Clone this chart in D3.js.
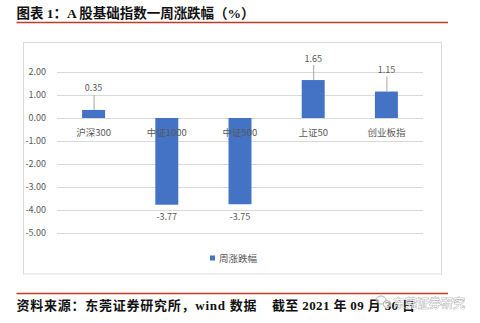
<!DOCTYPE html>
<html>
<head>
<meta charset="utf-8">
<script src="https://cdn.jsdelivr.net/npm/d3@7"></script>
<style>
  html, body { margin: 0; padding: 0; background: #fff; }
  svg { display: block; }
</style>
</head>
<body>
<script>
// Weekly change of the main A-share indices (%)
const categories = ["沪深300", "中证1000", "中证500", "上证50", "创业板指"];
const weeklyChange = [0.35, -3.77, -3.75, 1.65, 1.15];
const yTicks = [2, 1, 0, -1, -2, -3, -4, -5];
const seriesName = "周涨跌幅";
const titleText = "图表 1：A 股基础指数一周涨跌幅（%）";
const sourceText = "资料来源：东莞证券研究所，wind 数据";
const dateText = "截至 2021 年 09 月 30 日";
const watermarkText = "东莞证券研究";

const W = 480, H = 323;
const svg = d3.select("body").append("svg").attr("width", W).attr("height", H);

const serif = "'Liberation Serif', 'Times New Roman', 'Noto Sans CJK SC', serif";
const sans = "'Noto Sans CJK SC', 'Microsoft YaHei', sans-serif";
const red = "#c0392b";
const textGray = "#595959";
const gridGray = "#d9d9d9";
const barBlue = "#4472c4";

// Plain hyphen for negative numbers
const locale = d3.formatLocale({ decimal: ".", thousands: ",", grouping: [3], currency: ["", ""], minus: "-" });
const fmt = locale.format(".2f");

// Title and rule
svg.append("text")
  .attr("x", 16.5).attr("y", 13.5)
  .attr("dominant-baseline", "central")
  .attr("textLength", 238).attr("lengthAdjust", "spacing")
  .style("font-family", serif).style("font-weight", "bold").style("font-size", "13.5px")
  .attr("fill", "#111")
  .text(titleText);
svg.append("line").attr("x1", 16.5).attr("x2", 448).attr("y1", 22.5).attr("y2", 22.5)
  .attr("stroke", red).attr("stroke-width", 1.5);

// Chart frame
svg.append("rect").attr("x", 23.5).attr("y", 42.5).attr("width", 418).attr("height", 231.5)
  .attr("fill", "#fff").attr("stroke", gridGray).attr("stroke-width", 1);

// Scales
const x = d3.scaleBand().domain(categories).range([57, 423])
  .paddingInner(0.686).paddingOuter(0.343);
const y = d3.scaleLinear().domain([-5, 2]).range([233, 72]);

// Gridlines
svg.append("g").selectAll("line").data(yTicks).join("line")
  .attr("x1", 57).attr("x2", 423)
  .attr("y1", d => Math.round(y(d)) + 0.5).attr("y2", d => Math.round(y(d)) + 0.5)
  .attr("stroke", gridGray).attr("stroke-width", 1);

// Y axis labels
const yAxis = d3.axisLeft(y).tickValues(yTicks).tickFormat(fmt).tickSize(0).tickPadding(0);
const gy = svg.append("g").attr("transform", "translate(46,0)").call(yAxis);
gy.select(".domain").remove();
gy.selectAll("text")
  .style("font-family", sans).style("font-size", "9px").attr("fill", textGray);

// Bars
const data = categories.map((c, i) => ({ cat: c, val: weeklyChange[i] }));
svg.append("g").selectAll("rect").data(data).join("rect")
  .attr("x", d => x(d.cat))
  .attr("width", x.bandwidth())
  .attr("y", d => y(Math.max(0, d.val)))
  .attr("height", d => Math.abs(y(d.val) - y(0)))
  .attr("fill", barBlue);

// Category labels sit just under the zero line
svg.append("g").selectAll("text").data(data).join("text")
  .attr("x", d => x(d.cat) + x.bandwidth() / 2)
  .attr("y", y(0) + 13.5)
  .attr("text-anchor", "middle").attr("dominant-baseline", "central")
  .style("font-family", sans).style("font-size", "9.5px")
  .attr("fill", textGray)
  .text(d => d.cat);

// Value labels: positive ones lifted with a leader line, negative ones below the bar
const labelLift = 22;
const pos = data.filter(d => d.val >= 0);
const neg = data.filter(d => d.val < 0);
svg.append("g").selectAll("line").data(pos).join("line")
  .attr("x1", d => x(d.cat) + x.bandwidth() / 2 + 0.5)
  .attr("x2", d => x(d.cat) + x.bandwidth() / 2 + 0.5)
  .attr("y1", d => y(d.val) - labelLift + 7)
  .attr("y2", d => y(d.val))
  .attr("stroke", "#a6a6a6").attr("stroke-width", 1);
svg.append("g").selectAll("text").data(pos).join("text")
  .attr("x", d => x(d.cat) + x.bandwidth() / 2)
  .attr("y", d => y(d.val) - labelLift)
  .attr("text-anchor", "middle").attr("dominant-baseline", "central")
  .style("font-family", sans).style("font-size", "9px").attr("fill", textGray)
  .text(d => fmt(d.val));
svg.append("g").selectAll("text").data(neg).join("text")
  .attr("x", d => x(d.cat) + x.bandwidth() / 2)
  .attr("y", d => y(d.val) + 12)
  .attr("text-anchor", "middle").attr("dominant-baseline", "central")
  .style("font-family", sans).style("font-size", "9px").attr("fill", textGray)
  .text(d => fmt(d.val));

// Legend
const lg = svg.append("g").attr("transform", "translate(210,258)");
lg.append("rect").attr("x", 0).attr("y", -2.5).attr("width", 5).attr("height", 5).attr("fill", barBlue);
lg.append("text").attr("x", 9).attr("y", 0).attr("dominant-baseline", "central")
  .style("font-family", sans).style("font-size", "9.5px").attr("fill", textGray)
  .text(seriesName);

// Source line and rule
svg.append("line").attr("x1", 16.5).attr("x2", 448).attr("y1", 293.5).attr("y2", 293.5)
  .attr("stroke", red).attr("stroke-width", 1.5);
const footer = svg.append("g")
  .style("font-family", serif).style("font-weight", "bold").style("font-size", "13px")
  .attr("fill", "#111");
footer.append("text")
  .attr("x", 16.5).attr("y", 305).attr("dominant-baseline", "central")
  .attr("textLength", 240).attr("lengthAdjust", "spacing")
  .text(sourceText);
footer.append("text")
  .attr("x", 272).attr("y", 305).attr("dominant-baseline", "central")
  .attr("textLength", 143).attr("lengthAdjust", "spacing")
  .text(dateText);

// Account watermark
const wm = svg.append("g").attr("opacity", 0.9);
wm.append("ellipse").attr("cx", 381).attr("cy", 300).attr("rx", 5).attr("ry", 4)
  .attr("fill", "rgba(255,255,255,0.6)").attr("stroke", "#999").attr("stroke-width", 0.8);
wm.append("ellipse").attr("cx", 387).attr("cy", 304).attr("rx", 4).attr("ry", 3.3)
  .attr("fill", "rgba(255,255,255,0.6)").attr("stroke", "#999").attr("stroke-width", 0.8);
wm.append("text")
  .attr("x", 393).attr("y", 302.5)
  .attr("dominant-baseline", "central")
  .style("font-family", sans).style("font-size", "12px")
  .attr("fill", "#fff").attr("stroke", "#8a8a8a").attr("stroke-width", 0.7)
  .style("paint-order", "stroke")
  .text(watermarkText);
</script>
</body>
</html>
